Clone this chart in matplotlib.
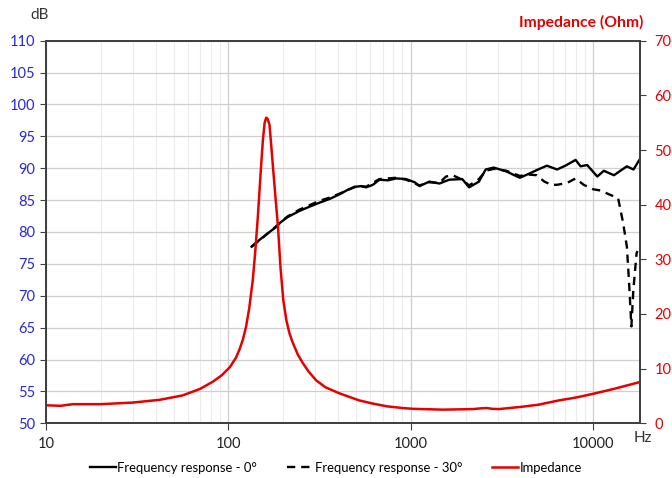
import matplotlib.pyplot as plt
from matplotlib.ticker import LogLocator, FixedLocator, NullFormatter, FixedFormatter

plt.rcParams['font.family'] = ['Lato', 'DejaVu Sans']

# frequency response, 0 degrees
freq_0 = [134, 150, 168, 183, 191, 210, 245, 280, 316, 360, 406, 450, 501, 535, 569,
          620, 673, 750, 831, 943, 1050, 1115, 1264, 1435, 1624, 1914, 2089, 2364,
          2574, 2851, 3339, 3960, 4496, 4896, 5572, 6340, 7040, 8010, 8530, 9270,
          10530, 11440, 12990, 15300, 16640, 18000]
spl_0 = [77.7, 78.9, 80.0, 80.8, 81.4, 82.3, 83.3, 84.0, 84.6, 85.2, 85.9, 86.6, 87.1,
         87.2, 87.0, 87.4, 88.2, 88.1, 88.4, 88.3, 87.8, 87.2, 87.9, 87.6, 88.2, 88.3,
         87.0, 87.9, 89.8, 90.1, 89.5, 88.5, 89.2, 89.7, 90.4, 89.8, 90.4, 91.3, 90.3,
         90.5, 88.7, 89.6, 88.9, 90.3, 89.8, 91.4]

# frequency response, 30 degrees
freq_30 = [134, 168, 210, 245, 316, 360, 406, 501, 569, 673, 831, 943, 1115, 1264,
           1435, 1560, 1700, 1914, 2089, 2364, 2574, 2851, 3339, 3960, 4496, 4896,
           5400, 5900, 6340, 7200, 8010, 8870, 10000, 11000, 12000, 13700, 14600,
           15300, 15700, 16200, 16600, 17300, 17500]
spl_30 = [77.7, 80.0, 82.4, 83.5, 84.9, 85.4, 86.0, 87.2, 87.1, 88.3, 88.5, 88.2, 87.3,
          87.8, 87.7, 88.7, 88.9, 88.2, 87.3, 88.3, 89.6, 89.9, 89.6, 88.8, 89.0, 88.9,
          87.9, 87.4, 87.4, 87.7, 88.4, 87.4, 86.7, 86.5, 86.0, 85.3, 81.4, 77.7, 72.5,
          65.2, 70.9, 76.7, 77.0]

# impedance
freq_z = [10, 12, 14, 20, 30, 42, 56, 70, 82, 92, 102, 110, 115, 120, 125, 130, 136,
          140, 145, 150, 154.5, 158, 161, 164, 168, 172, 175.5, 181, 187, 193, 200,
          208, 216, 225, 240, 256, 275, 302, 340, 405, 520, 620, 742, 900, 1030, 1500,
          2190, 2450, 2600, 2800, 3030, 4000, 5000, 6500, 8000, 10000, 13000, 17800]
imp = [3.3, 3.2, 3.5, 3.5, 3.8, 4.3, 5.1, 6.3, 7.6, 8.8, 10.3, 12.0, 13.5, 15.3, 17.7,
       21.0, 26.2, 31.0, 37.8, 45.5, 51.8, 55.0, 55.9, 55.7, 54.6, 50.5, 46.9, 41.5,
       35.9, 28.5, 22.5, 18.8, 16.5, 14.8, 12.6, 11.0, 9.5, 7.9, 6.6, 5.5, 4.2, 3.6,
       3.1, 2.8, 2.65, 2.5, 2.6, 2.75, 2.8, 2.65, 2.6, 3.0, 3.4, 4.2, 4.7, 5.4, 6.3, 7.5]

x_ticks = [10, 100, 1000, 10000]
db_ticks = list(range(50, 111, 5))
ohm_ticks = list(range(0, 71, 10))

RED = '#E60000'
BLUE = '#2828D8'
GRAY = '#404040'

fig = plt.figure(figsize=(6.72, 4.78), dpi=100)
ax = fig.add_axes([0.0685, 0.1144, 0.8835, 0.8005])
ax2 = ax.twinx()

ax.set_xscale('log')
ax.set_xlim(10, 18000)
ax.set_ylim(50, 110)
ax2.set_ylim(0, 70)

ax.xaxis.set_major_locator(FixedLocator(x_ticks))
ax.xaxis.set_major_formatter(FixedFormatter([str(t) for t in x_ticks]))
ax.xaxis.set_minor_locator(LogLocator(base=10, subs=range(2, 10)))
ax.xaxis.set_minor_formatter(NullFormatter())
ax.set_yticks(db_ticks)
ax2.set_yticks(ohm_ticks)

ax.grid(True, which='major', color='#cfcfcf', lw=0.9)
ax.grid(True, which='minor', axis='x', color='#ececec', lw=0.8)
ax.set_axisbelow(True)

ax.tick_params(axis='y', colors=GRAY, labelcolor=BLUE, labelsize=10.5, length=4, width=0.8)
ax.tick_params(axis='x', colors=GRAY, labelcolor='#222222', labelsize=10.5, length=5,
               width=0.8, pad=4.5)
ax.tick_params(axis='x', which='minor', length=0)
ax2.tick_params(axis='y', colors=GRAY, labelcolor=RED, labelsize=10.5, length=4, width=0.8,
                pad=6.5)

for a in (ax, ax2):
    for s in a.spines.values():
        s.set_color(GRAY)
        s.set_linewidth(1.3)

l1, = ax.plot(freq_0, spl_0, color='black', lw=1.7, label='Frequency response - 0°')
l2, = ax.plot(freq_30, spl_30, color='black', lw=1.7, linestyle=(0, (3.5, 2.5)),
              label='Frequency response - 30°')
l3, = ax2.plot(freq_z, imp, color=RED, lw=1.8, label='Impedance')

fig.text(0.045, 0.968, 'dB', fontsize=11, color='#333333', ha='left', va='center')
fig.text(0.958, 0.952, 'Impedance (Ohm)', fontsize=11.3, color=RED, fontweight='bold',
         ha='right', va='center')
fig.text(0.956, 0.084, 'Hz', fontsize=11, color='#333333', ha='center', va='center')

fig.legend(handles=[l1, l2, l3], loc='center', bbox_to_anchor=(0.5, 0.021), ncol=3,
           frameon=False, fontsize=9.4, handlelength=2.0, handletextpad=0.1,
           columnspacing=2.3)

fig.savefig('out.png', dpi=100)
